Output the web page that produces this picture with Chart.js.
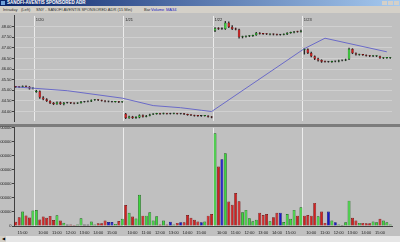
<!DOCTYPE html>
<html>
<head>
<meta charset="utf-8">
<script src="https://cdn.jsdelivr.net/npm/chart.js@4.4.1/dist/chart.umd.min.js"></script>
<style>
  body { margin: 0; width: 400px; height: 242px; overflow: hidden; position: relative; background: #c0c0c0; font-family: "Liberation Sans", Arial, sans-serif; }
  #titlebar { position: absolute; left: 0; top: 0; width: 400px; height: 6px; background: linear-gradient(to right, #0a246a, #a6caf0); }
  #titlebar .icon { position: absolute; left: 1px; top: 1px; width: 4px; height: 4px; background: #6fa0d8; }
  #titlebar .txt { position: absolute; left: 7px; top: 0; font-size: 4.5px; line-height: 6px; font-weight: bold; color: #fff; white-space: nowrap; }
  #titlebar .btn { position: absolute; top: 1px; width: 5px; height: 4px; background: #d4d0c8; }
  #toolbar { position: absolute; left: 0; top: 6px; width: 400px; height: 7px; background: #d4d0c8; color: #303030; font-size: 4px; line-height: 7px; white-space: nowrap; }
  #toolbar span { position: absolute; top: 0; }
  #toolbar .blue { color: #2020c0; }
  #sep { position: absolute; left: 0; top: 124px; width: 400px; height: 3px; background: #7c7c7c; }
  #scroll { position: absolute; left: 0; top: 236px; width: 400px; height: 6px; background: #e6e6e6; }
  #scroll .b { position: absolute; left: 0; top: 0; width: 6px; height: 6px; background: #d4d0c8; font-size: 4px; line-height: 6px; text-align: center; }
  canvas { position: absolute; left: 0; }
</style>
</head>
<body>
<div id="titlebar">
  <div class="icon"></div>
  <div class="txt">SANOFI-AVENTIS SPONSORED ADR</div>
  <div class="btn" style="left:382px"></div>
  <div class="btn" style="left:388px"></div>
  <div class="btn" style="left:394px"></div>
</div>
<div id="toolbar">
  <span style="left:3px">Intraday</span>
  <span style="left:21px">(Left)</span>
  <span style="left:36px">SNY - SANOFI AVENTIS SPONSORED ADR (15 Min)</span>
  <span style="left:144px">Bar</span>
  <span class="blue" style="left:151px">Volume</span>
  <span class="blue" style="left:166px">MA34</span>
</div>
<canvas id="priceChart" width="400" height="111" style="top:13px"></canvas>
<div id="sep"></div>
<canvas id="volumeChart" width="400" height="111" style="top:125px"></canvas>
<div id="scroll"><div class="b">&#9664;</div></div>

<script>
// sessions shown: end of 1/19, then four full days of 15 minute bars
const days = ['1/19', '1/20', '1/21', '1/22', '1/23'];
const sessionTimes = ['09:30', '09:45', '10:00', '10:15', '10:30', '10:45', '11:00', '11:15', '11:30', '11:45',
  '12:00', '12:15', '12:30', '12:45', '13:00', '13:15', '13:30', '13:45', '14:00', '14:15',
  '14:30', '14:45', '15:00', '15:15', '15:30', '15:45'];
const firstDayStart = '14:30';

const open = [
  45.17, 45.15, 45.14, 45.19, 45.17, 45.08,
  44.92, 44.96, 44.66, 44.58, 44.50, 44.41, 44.35, 44.44, 44.35, 44.41, 44.41, 44.40, 44.38, 44.40, 44.46, 44.47, 44.47, 44.53, 44.55, 44.53, 44.51, 44.47, 44.46, 44.45, 44.47, 44.44,
  43.90, 43.70, 43.77, 43.70, 43.72, 43.82, 43.76, 43.80, 43.86, 43.88, 43.90, 43.89, 43.91, 43.90, 43.90, 43.91, 43.90, 43.90, 43.87, 43.84, 43.82, 43.80, 43.79, 43.79, 43.80, 43.76,
  47.80, 47.92, 47.90, 47.88, 48.18, 47.98, 47.90, 47.86, 47.50, 47.52, 47.54, 47.56, 47.60, 47.70, 47.66, 47.65, 47.63, 47.64, 47.62, 47.61, 47.61, 47.64, 47.70, 47.72, 47.76, 47.75,
  46.90, 46.93, 46.76, 46.60, 46.50, 46.42, 46.35, 46.34, 46.33, 46.35, 46.35, 46.40, 46.40, 46.46, 46.94, 46.74, 46.67, 46.68, 46.66, 46.63, 46.60, 46.60, 46.60, 46.51, 46.52, 46.51
];
const high = [
  45.19, 45.17, 45.21, 45.21, 45.18, 45.12,
  45.00, 44.98, 44.70, 44.61, 44.52, 44.43, 44.46, 44.46, 44.43, 44.43, 44.42, 44.41, 44.42, 44.48, 44.48, 44.49, 44.55, 44.57, 44.56, 44.54, 44.52, 44.49, 44.48, 44.48, 44.48, 44.47,
  43.92, 43.79, 43.78, 43.76, 43.85, 43.84, 43.82, 43.88, 43.90, 43.92, 43.91, 43.93, 43.92, 43.92, 43.93, 43.92, 43.91, 43.91, 43.88, 43.85, 43.83, 43.81, 43.81, 43.82, 43.81, 43.77,
  47.95, 47.95, 47.94, 48.24, 48.22, 48.04, 47.93, 47.88, 47.55, 47.56, 47.58, 47.60, 47.73, 47.72, 47.68, 47.67, 47.66, 47.66, 47.64, 47.63, 47.66, 47.72, 47.74, 47.77, 47.78, 47.83,
  46.98, 46.95, 46.80, 46.62, 46.52, 46.44, 46.37, 46.36, 46.37, 46.37, 46.42, 46.42, 46.47, 46.98, 46.96, 46.76, 46.70, 46.69, 46.67, 46.64, 46.63, 46.63, 46.61, 46.54, 46.55, 46.55
];
const low = [
  45.13, 45.12, 45.13, 45.15, 45.05, 45.06,
  44.90, 44.62, 44.55, 44.47, 44.37, 44.32, 44.33, 44.33, 44.31, 44.39, 44.37, 44.36, 44.37, 44.39, 44.44, 44.45, 44.46, 44.52, 44.51, 44.49, 44.45, 44.45, 44.44, 44.44, 44.42, 44.43,
  43.66, 43.68, 43.67, 43.68, 43.70, 43.73, 43.75, 43.79, 43.85, 43.87, 43.87, 43.88, 43.88, 43.88, 43.89, 43.88, 43.88, 43.85, 43.82, 43.80, 43.78, 43.77, 43.77, 43.78, 43.74, 43.70,
  47.76, 47.86, 47.86, 47.86, 47.95, 47.85, 47.84, 47.45, 47.46, 47.50, 47.52, 47.54, 47.58, 47.64, 47.63, 47.62, 47.61, 47.60, 47.59, 47.59, 47.60, 47.62, 47.68, 47.70, 47.73, 47.74,
  46.70, 46.72, 46.57, 46.44, 46.37, 46.31, 46.32, 46.32, 46.31, 46.33, 46.34, 46.38, 46.39, 46.44, 46.72, 46.65, 46.65, 46.64, 46.61, 46.58, 46.58, 46.58, 46.50, 46.49, 46.50, 46.50
];
const close = [
  45.15, 45.14, 45.19, 45.17, 45.08, 45.10,
  44.97, 44.66, 44.58, 44.50, 44.40, 44.35, 44.44, 44.36, 44.41, 44.41, 44.39, 44.38, 44.40, 44.46, 44.46, 44.47, 44.53, 44.55, 44.53, 44.51, 44.47, 44.47, 44.46, 44.47, 44.44, 44.45,
  43.70, 43.77, 43.70, 43.74, 43.82, 43.76, 43.80, 43.86, 43.88, 43.90, 43.89, 43.91, 43.90, 43.90, 43.91, 43.90, 43.90, 43.87, 43.84, 43.82, 43.80, 43.79, 43.79, 43.80, 43.76, 43.72,
  47.92, 47.90, 47.90, 48.18, 47.98, 47.88, 47.86, 47.50, 47.52, 47.54, 47.56, 47.57, 47.70, 47.66, 47.65, 47.64, 47.64, 47.62, 47.61, 47.61, 47.64, 47.70, 47.72, 47.75, 47.75, 47.80,
  46.94, 46.75, 46.60, 46.48, 46.40, 46.34, 46.34, 46.34, 46.35, 46.35, 46.40, 46.40, 46.45, 46.94, 46.74, 46.68, 46.68, 46.66, 46.63, 46.60, 46.61, 46.61, 46.52, 46.52, 46.53, 46.53
];

const volume = [
  30000, 62000, 104000, 75000, 60000, 110000,
  114000, 46000, 68000, 58000, 72000, 42000, 76000, 39000, 23000, 10000, 10000, 8000, 10000, 55000, 10000, 10000, 32000, 10000, 20000, 20000, 39000, 28000, 28000, 15000, 35000, 51000,
  150000, 94000, 67000, 54000, 223000, 74000, 74000, 98000, 39000, 70000, 11000, 39000, 11000, 30000, 11000, 22000, 27000, 27000, 79000, 58000, 44000, 32000, 27000, 32000, 74000, 86000,
  661000, 424000, 476000, 519000, 174000, 152000, 235000, 176000, 98000, 115000, 55000, 34000, 44000, 94000, 79000, 86000, 34000, 62000, 94000, 94000, 28000, 86000, 51000, 115000, 74000, 133000,
  74000, 79000, 74000, 165000, 70000, 103000, 22000, 103000, 39000, 27000, 11000, 8000, 27000, 181000, 58000, 39000, 22000, 22000, 20000, 20000, 32000, 27000, 51000, 39000, 27000, 11000
];
// G up, R down, B unchanged, K flat
const volumeTone = [
  'R', 'R', 'G', 'R', 'R', 'G',
  'G', 'R', 'R', 'R', 'R', 'R', 'G', 'R', 'G', 'K', 'R', 'R', 'G', 'G', 'K', 'K', 'G', 'G', 'R', 'R', 'R', 'B', 'B', 'G', 'R', 'G',
  'R', 'G', 'R', 'G', 'G', 'R', 'G', 'G', 'G', 'G', 'R', 'G', 'R', 'B', 'G', 'R', 'B', 'R', 'R', 'R', 'R', 'R', 'B', 'G', 'R', 'R',
  'G', 'R', 'B', 'G', 'R', 'R', 'R', 'R', 'G', 'G', 'G', 'G', 'G', 'R', 'R', 'R', 'G', 'R', 'R', 'B', 'G', 'G', 'G', 'G', 'R', 'G',
  'R', 'R', 'R', 'R', 'G', 'R', 'R', 'B', 'G', 'B', 'G', 'K', 'G', 'G', 'R', 'R', 'G', 'R', 'R', 'R', 'G', 'G', 'R', 'G', 'G', 'G'
];

// MA34 line (bar index -> value)
const ma34Index = [0, 15, 31, 40, 48, 54, 57, 84, 90, 108];
const ma34Value = [45.16, 44.98, 44.63, 44.28, 44.18, 44.06, 44.00, 46.96, 47.45, 46.81];

const priceTicks = [44, 44.5, 45, 45.5, 46, 46.5, 47, 47.5, 48];

// ---- build categories ----
const categories = [];
days.forEach((d, k) => {
  const times = k === 0 ? sessionTimes.slice(sessionTimes.indexOf(firstDayStart)) : sessionTimes;
  times.forEach(t => categories.push(d + ' ' + t));
});
const isDayStart = i => i > 0 && categories[i].endsWith('09:30');

const ma34 = categories.map(() => null);
ma34Index.forEach((idx, k) => { ma34[idx] = ma34Value[k]; });

const toneFill = { G: '#3cd83c', R: '#d42020', B: '#1818c8', K: '#202020' };
const toneEdge = { G: '#126012', R: '#6c0c0c', B: '#0a0a70', K: '#202020' };
const candleTone = open.map((o, i) => close[i] > o ? 'G' : close[i] < o ? 'R' : 'K');

Chart.defaults.font.family = "'Liberation Sans', Arial, sans-serif";
Chart.defaults.font.size = 4;
Chart.defaults.color = '#202020';

const dayLabels = {
  id: 'dayLabels',
  afterDraw(chart) {
    const x = chart.scales.x;
    const ctx = chart.ctx;
    ctx.save();
    ctx.font = "4px 'Liberation Sans', Arial, sans-serif";
    ctx.fillStyle = '#202020';
    ctx.textBaseline = 'top';
    categories.forEach((c, i) => {
      if (isDayStart(i)) ctx.fillText(c.split(' ')[0], x.getPixelForValue(i) - 0.5, chart.chartArea.top + 2);
    });
    ctx.restore();
  }
};

const separatorColor = ctx => isDayStart(ctx.index) ? '#ececec' : 'rgba(0,0,0,0)';

new Chart(document.getElementById('priceChart'), {
  type: 'bar',
  data: {
    labels: categories,
    datasets: [
      {
        type: 'line',
        data: ma34,
        borderColor: '#6a6ac8',
        borderWidth: 1,
        pointRadius: 0,
        spanGaps: true,
        order: 0
      },
      {
        data: open.map((o, i) => [o, close[i]]),
        backgroundColor: candleTone.map(t => toneFill[t]),
        borderColor: candleTone.map(t => toneEdge[t]),
        borderWidth: 0.5,
        borderSkipped: false,
        minBarLength: 1,
        barPercentage: 0.75,
        categoryPercentage: 1,
        grouped: false,
        order: 1
      },
      {
        data: low.map((l, i) => [l, high[i]]),
        backgroundColor: '#282828',
        barThickness: 0.7,
        grouped: false,
        order: 2
      }
    ]
  },
  options: {
    responsive: false,
    animation: false,
    layout: { padding: { top: 1, right: 8, left: 0, bottom: 0 } },
    plugins: { legend: { display: false }, tooltip: { enabled: false } },
    scales: {
      x: {
        offset: true,
        grid: { offset: true, color: separatorColor, drawTicks: false },
        border: { display: false },
        ticks: { display: false }
      },
      y: {
        min: 43.55,
        max: 48.5,
        afterFit: s => { s.width = 14; },
        afterBuildTicks: s => { s.ticks = priceTicks.map(v => ({ value: v })); },
        border: { color: '#404040' },
        grid: { color: '#d0d0d0', tickColor: '#404040', tickLength: 2 },
        ticks: { padding: 0.5, callback: v => v.toFixed(2) }
      }
    }
  },
  plugins: [dayLabels]
});

new Chart(document.getElementById('volumeChart'), {
  type: 'bar',
  data: {
    labels: categories,
    datasets: [{
      data: volume,
      backgroundColor: volumeTone.map(t => toneFill[t]),
      borderColor: volumeTone.map(t => toneEdge[t]),
      borderWidth: 0.7,
      borderSkipped: 'bottom',
      barPercentage: 0.85,
      categoryPercentage: 1
    }]
  },
  options: {
    responsive: false,
    animation: false,
    layout: { padding: { top: 2, right: 8, left: 0, bottom: 0 } },
    plugins: { legend: { display: false }, tooltip: { enabled: false } },
    scales: {
      x: {
        offset: true,
        afterFit: s => { s.height = 10; },
        grid: { offset: true, color: separatorColor, drawTicks: false },
        border: { color: '#404040' },
        ticks: {
          autoSkip: false,
          maxRotation: 0,
          padding: 4,
          callback: (v, i) => {
            const t = categories[i].split(' ')[1];
            return t.endsWith(':00') ? t : '';
          }
        }
      },
      y: {
        min: 0,
        max: 700000,
        afterFit: s => { s.width = 14; },
        border: { color: '#404040' },
        grid: { drawOnChartArea: false, tickColor: '#404040', tickLength: 2 },
        ticks: { stepSize: 100000, padding: 0.5, callback: v => String(v) }
      }
    }
  }
});
</script>
</body>
</html>
